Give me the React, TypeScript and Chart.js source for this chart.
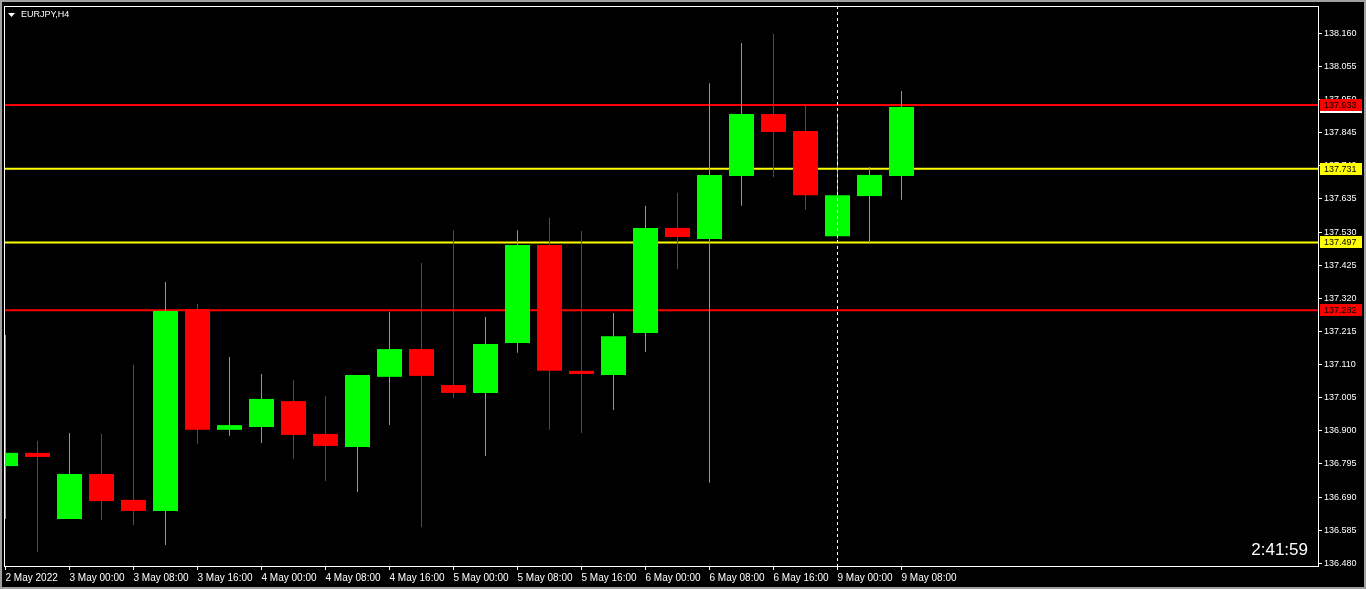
import React, { useEffect, useRef } from 'react';
import { Chart, registerables } from 'chart.js';

Chart.register(...registerables);

const symbolLabel = 'EURJPY,H4';
const timerLabel = '2:41:59';

// H4 bars, 2 May 16:00 .. 9 May 08:00
const candleTimes = [
  '2 May 16:00', '2 May 20:00',
  '3 May 00:00', '3 May 04:00', '3 May 08:00', '3 May 12:00', '3 May 16:00', '3 May 20:00',
  '4 May 00:00', '4 May 04:00', '4 May 08:00', '4 May 12:00', '4 May 16:00', '4 May 20:00',
  '5 May 00:00', '5 May 04:00', '5 May 08:00', '5 May 12:00', '5 May 16:00', '5 May 20:00',
  '6 May 00:00', '6 May 04:00', '6 May 08:00', '6 May 12:00', '6 May 16:00', '6 May 20:00',
  '9 May 00:00', '9 May 04:00', '9 May 08:00',
];

const opens = [
  136.788, 136.830, 136.620, 136.763, 136.681, 136.646, 137.286, 136.903, 136.912, 136.994,
  136.890, 136.849, 137.071, 137.159, 137.045, 137.020, 137.178, 137.489, 137.090, 137.077,
  137.210, 137.543, 137.508, 137.708, 137.904, 137.850, 137.517, 137.644, 137.708,
];
const highs = [
  137.204, 136.868, 136.893, 136.890, 137.109, 137.372, 137.302, 137.134, 137.080, 137.061,
  137.010, 137.077, 137.277, 137.432, 137.536, 137.261, 137.536, 137.575, 137.533, 137.273,
  137.613, 137.654, 138.002, 138.129, 138.158, 137.936, 137.898, 137.736, 137.977,
];
const lows = [
  136.620, 136.516, 136.620, 136.617, 136.601, 136.538, 136.858, 136.884, 136.861, 136.811,
  136.741, 136.706, 136.918, 136.595, 137.004, 136.820, 137.147, 136.903, 136.893, 136.966,
  137.150, 137.413, 136.735, 137.613, 137.704, 137.600, 137.508, 137.492, 137.632,
];
const closes = [
  136.830, 136.817, 136.763, 136.677, 136.646, 137.280, 136.903, 136.918, 137.001, 136.887,
  136.852, 137.077, 137.159, 137.074, 137.020, 137.175, 137.489, 137.090, 137.080, 137.200,
  137.543, 137.514, 137.711, 137.904, 137.847, 137.647, 137.647, 137.711, 137.926,
];

const xTickIndexes = [0, 2, 4, 6, 8, 10, 12, 14, 16, 18, 20, 22, 24, 26, 28];
const xTickLabels = [
  '2 May 2022', '3 May 00:00', '3 May 08:00', '3 May 16:00', '4 May 00:00', '4 May 08:00',
  '4 May 16:00', '5 May 00:00', '5 May 08:00', '5 May 16:00', '6 May 00:00', '6 May 08:00',
  '6 May 16:00', '9 May 00:00', '9 May 08:00',
];
const yTickValues = [
  138.160, 138.055, 137.950, 137.845, 137.740, 137.635, 137.530, 137.425, 137.320,
  137.215, 137.110, 137.005, 136.900, 136.795, 136.690, 136.585, 136.480,
];

const redLevels = [137.933, 137.282];
const yellowLevels = [137.731, 137.497];
const bidPrice = 137.926;
const crosshairIndex = 26;

const yMin = 136.4714;
const yMax = 138.2465;
const xMin = -0.046875;
const xMax = 41.015625;

const GREEN = '#00FF00';
const RED = '#FF0000';
const YELLOW = '#FFFF00';
const FONT = '"Liberation Sans", Arial, sans-serif';

const candleColors = closes.map((c, i) => (c >= opens[i] ? GREEN : RED));

const decorPlugin = {
  id: 'decor',
  beforeDraw(chart: any) {
    const { ctx, width, height } = chart;
    ctx.save();
    ctx.fillStyle = '#000000';
    ctx.fillRect(0, 0, width, height);
    ctx.restore();
  },
  afterDraw(chart: any) {
    const { ctx, chartArea: a, scales, width, height } = chart;
    const ys = scales.y;
    ctx.save();
    // plot frame
    ctx.strokeStyle = '#FFFFFF';
    ctx.lineWidth = 1;
    ctx.strokeRect(a.left + 0.5, a.top + 0.5, a.right - a.left, a.bottom - a.top);

    // price labels on the axis
    ctx.font = `9px ${FONT}`;
    ctx.textBaseline = 'middle';
    ctx.textAlign = 'left';
    const box = (price: number, bg: string) => {
      const py = Math.round(ys.getPixelForValue(price));
      ctx.fillStyle = bg;
      ctx.fillRect(a.right + 2, py - 6, 42, 12);
      ctx.fillStyle = '#000000';
      ctx.fillText(price.toFixed(3), a.right + 6, py + 0.5);
    };
    box(bidPrice, '#FFFFFF');
    redLevels.forEach((p) => box(p, RED));
    yellowLevels.forEach((p) => box(p, YELLOW));

    // symbol title
    ctx.fillStyle = '#FFFFFF';
    ctx.beginPath();
    ctx.moveTo(8, 13);
    ctx.lineTo(15, 13);
    ctx.lineTo(11.5, 17);
    ctx.closePath();
    ctx.fill();
    ctx.font = `9px ${FONT}`;
    ctx.textBaseline = 'middle';
    ctx.fillText(symbolLabel, 21, 15);

    // bar timer
    ctx.font = `17px ${FONT}`;
    ctx.textAlign = 'right';
    ctx.textBaseline = 'alphabetic';
    ctx.fillText(timerLabel, 1308, 555);

    // window border
    ctx.fillStyle = '#A0A0A0';
    ctx.fillRect(0, 0, width, 2);
    ctx.fillRect(0, 0, 2, height);
    ctx.fillRect(width - 2, 0, 2, height);
    ctx.fillRect(0, height - 2, width, 2);
    ctx.restore();
  },
};

export default function App() {
  const ref = useRef<HTMLCanvasElement>(null);

  useEffect(() => {
    document.body.style.margin = '0';
    document.body.style.background = '#000';
    const canvas = ref.current;
    if (!canvas) return;

    const bodies = closes.map((c, i) => ({ x: i, y: [opens[i], c] }));
    const wicks = lows.map((l, i) => ({ x: i, y: [l, highs[i]] }));

    const levelDatasets = [
      ...redLevels.map((p) => ({ p, c: RED })),
      ...yellowLevels.map((p) => ({ p, c: YELLOW })),
    ].map(({ p, c }) => ({
      type: 'line' as const,
      data: [{ x: xMin, y: p }, { x: xMax, y: p }],
      borderColor: c,
      borderWidth: 2,
      pointRadius: 0,
      order: 3,
    }));

    const chart = new Chart(canvas, {
      type: 'bar',
      data: {
        datasets: [
          {
            type: 'bar',
            data: bodies as any,
            backgroundColor: candleColors,
            borderWidth: 0,
            grouped: false,
            barThickness: 25,
            maxBarThickness: 25,
            inflateAmount: 0,
            order: 1,
          } as any,
          {
            type: 'bar',
            data: wicks as any,
            backgroundColor: candleColors,
            borderWidth: 0,
            grouped: false,
            barThickness: 1,
            maxBarThickness: 1,
            inflateAmount: 0,
            order: 2,
          } as any,
          ...levelDatasets,
          {
            type: 'line',
            data: [{ x: crosshairIndex, y: yMax }, { x: crosshairIndex, y: yMin }],
            borderColor: '#FFFFFF',
            borderWidth: 1,
            borderDash: [3, 3],
            pointRadius: 0,
            order: 0,
          } as any,
        ],
      },
      options: {
        responsive: false,
        animation: false,
        devicePixelRatio: 1,
        events: [],
        layout: { padding: { left: 4, top: 6, right: 0, bottom: 0 } },
        plugins: {
          legend: { display: false },
          tooltip: { enabled: false },
          title: { display: false },
        },
        scales: {
          x: {
            type: 'linear',
            min: xMin,
            max: xMax,
            offset: false,
            grid: {
              display: true,
              drawOnChartArea: false,
              drawTicks: true,
              tickLength: 4,
              color: '#FFFFFF',
              tickColor: '#FFFFFF',
              offset: false,
            },
            border: { display: false },
            ticks: {
              autoSkip: false,
              maxRotation: 0,
              minRotation: 0,
              align: 'start',
              padding: 2,
              color: '#FFFFFF',
              font: { family: FONT, size: 10 },
              callback: (_v: any, i: number) => xTickLabels[i] ?? '',
            },
            afterBuildTicks: (s: any) => {
              s.ticks = xTickIndexes.map((v) => ({ value: v }));
            },
            afterFit: (s: any) => {
              s.height = 23;
              s.paddingLeft = 0;
              s.paddingRight = 0;
            },
          } as any,
          y: {
            type: 'linear',
            position: 'right',
            min: yMin,
            max: yMax,
            grid: {
              display: true,
              drawOnChartArea: false,
              drawTicks: true,
              tickLength: 4,
              color: '#FFFFFF',
              tickColor: '#FFFFFF',
            },
            border: { display: false },
            ticks: {
              autoSkip: false,
              padding: 2,
              color: '#FFFFFF',
              font: { family: FONT, size: 9 },
              callback: (v: any) => Number(v).toFixed(3),
            },
            afterBuildTicks: (s: any) => {
              s.ticks = yTickValues.map((v) => ({ value: v }));
            },
            afterFit: (s: any) => {
              s.width = 48;
              s.paddingTop = 0;
              s.paddingBottom = 0;
            },
          } as any,
        },
      },
      plugins: [decorPlugin],
    });

    return () => chart.destroy();
  }, []);

  return <canvas ref={ref} width={1366} height={589} style={{ display: 'block' }} />;
}
